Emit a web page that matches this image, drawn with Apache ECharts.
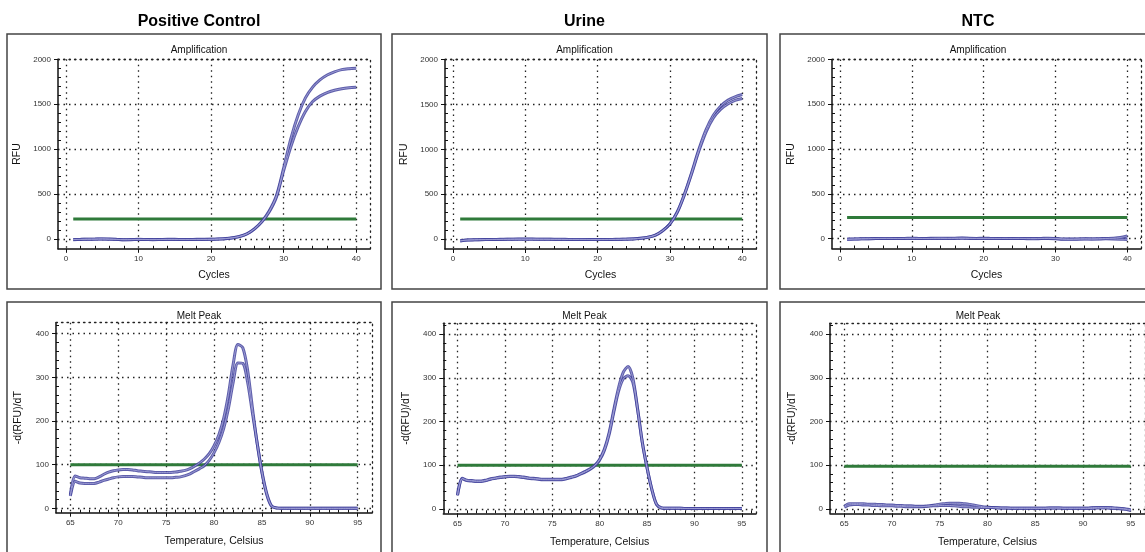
<!DOCTYPE html>
<html>
<head>
<meta charset="utf-8">
<script src="https://cdn.jsdelivr.net/npm/echarts@6/dist/echarts.min.js"></script>
<style>
  html, body { margin: 0; padding: 0; background: #fff; }
  #chart { width: 1145px; height: 552px; }
</style>
</head>
<body>
<div id="chart"></div>
<script>
// ---- data ----
const sampleNames = ["Positive Control", "Urine", "NTC"];

const cycles = [1, 2, 3, 4, 5, 6, 7, 8, 9, 10, 11, 12, 13, 14, 15, 16, 17, 18, 19, 20,
  21, 22, 23, 24, 25, 26, 27, 28, 29, 30, 31, 32, 33, 34, 35, 36, 37, 38, 39, 40];

const pcAmpA = [-6, -5, -3, -2, 0, -2, -5, -8, -7, -5, -6, -7, -6, -5, -5, -6, -6, -5, -5, -4,
  -1, 4, 13, 30, 60, 115, 195, 310, 480, 790, 1120, 1380, 1570, 1690, 1770, 1825, 1860, 1885, 1895, 1900];
const pcAmpB = [-8, -6, -4, -3, -1, -3, -6, -9, -8, -6, -7, -8, -7, -6, -6, -7, -7, -6, -6, -5,
  -2, 3, 12, 28, 58, 112, 190, 300, 465, 760, 1030, 1250, 1420, 1530, 1590, 1630, 1655, 1672, 1683, 1690];

const urAmpA = [-18, -10, -7, -5, -4, -3, -2, -1, 0, 0, 0, -1, -1, -2, -2, -3, -3, -3, -4, -4,
  -4, -3, -2, 0, 3, 10, 22, 45, 95, 170, 300, 500, 740, 1000, 1220, 1380, 1480, 1545, 1585, 1610];
const urAmpB = [-20, -11, -8, -6, -5, -4, -3, -2, -1, -1, -1, -2, -2, -3, -3, -4, -4, -4, -5, -5,
  -5, -4, -3, -1, 2, 9, 21, 44, 93, 168, 296, 492, 728, 980, 1195, 1350, 1445, 1505, 1545, 1565];

const ntcAmpA = [-8, -5, -2, 0, 2, 3, 3, 2, 3, 5, 3, 2, 4, 5, 4, 5, 6, 4, 3, 4,
  3, 2, 3, 2, 3, 2, 1, 3, 5, 2, -3, -5, -4, -2, -3, -1, 2, 5, 12, 30];
const ntcAmpB = [-6, -4, -2, -1, 1, 2, 2, 1, 2, 3, 2, 1, 2, 3, 2, 3, 4, 3, 2, 2,
  1, 1, 2, 1, 2, 0, -1, 1, 2, -1, -6, -8, -6, -4, -5, -4, -2, -3, -6, -10];

const temps = [65, 65.5, 66, 66.5, 67, 67.5, 68, 68.5, 69, 69.5, 70, 70.5, 71, 71.5, 72, 72.5,
  73, 73.5, 74, 74.5, 75, 75.5, 76, 76.5, 77, 77.5, 78, 78.5, 79, 79.5, 80, 80.5,
  81, 81.5, 82, 82.5, 83, 83.5, 84, 84.5, 85, 85.5, 86, 86.5, 87, 87.5, 88, 88.5,
  89, 89.5, 90, 90.5, 91, 91.5, 92, 92.5, 93, 93.5, 94, 94.5, 95];

const pcMeltA = [31, 74, 70, 69, 68, 68, 72, 78, 83, 86, 88, 89, 89, 88, 86, 85,
  84, 83, 82, 82, 82, 82, 83, 85, 87, 91, 97, 104, 113, 125, 143, 168,
  205, 260, 330, 375, 368, 318, 232, 150, 85, 35, 6, 1, 0, 0, 0, 0,
  0, 0, 0, 0, 0, 0, 0, 0, 0, 0, 0, 0, 0];
const pcMeltB = [28, 62, 58, 57, 57, 57, 60, 64, 67, 70, 72, 73, 73, 73, 72, 71,
  70, 70, 70, 70, 70, 70, 71, 72, 75, 79, 85, 91, 98, 110, 127, 150,
  182, 228, 288, 333, 332, 290, 220, 150, 82, 32, 5, 1, 0, 0, 0, 0,
  0, 0, 0, 0, 0, 0, 0, 0, 0, 0, 0, 0, 0];

const urMeltA = [32, 70, 66, 65, 64, 64, 66, 69, 71, 73, 74, 75, 75, 74, 73, 71,
  70, 69, 68, 68, 68, 68, 68, 70, 73, 76, 81, 86, 92, 100, 114, 137,
  175, 228, 278, 313, 326, 300, 230, 153, 95, 46, 11, 3, 2, 2, 2, 2,
  1, 1, 1, 1, 1, 1, 1, 1, 1, 1, 1, 1, 1];
const urMeltB = [31, 69, 65, 64, 63, 63, 65, 68, 70, 72, 73, 74, 74, 73, 72, 70,
  69, 68, 67, 67, 67, 67, 67, 69, 72, 75, 80, 85, 91, 99, 112, 134,
  170, 222, 270, 298, 305, 290, 228, 152, 94, 45, 10, 2, 1, 1, 1, 1,
  1, 1, 1, 1, 1, 1, 1, 1, 1, 1, 1, 1, 1];

const ntcMeltA = [6, 12, 12, 12, 12, 11, 11, 10, 10, 9, 9, 8, 8, 7, 7, 6,
  6, 6, 7, 7, 8, 8, 8, 7, 6, 5, 5, 4, 4, 3, 3, 3,
  2, 2, 2, 2, 2, 2, 2, 2, 2, 2, 2, 2, 2, 2, 2, 2,
  2, 2, 2, 2, 3, 3, 3, 3, 3, 2, 1, 0, -2];
const ntcMeltB = [4, 9, 10, 10, 9, 9, 8, 8, 7, 7, 7, 6, 6, 5, 5, 5,
  5, 6, 7, 9, 11, 12, 13, 13, 13, 12, 11, 9, 7, 5, 4, 3,
  3, 2, 2, 1, 1, 1, 1, 1, 1, 1, 1, 2, 2, 2, 1, 1,
  1, 1, 1, 1, 1, 2, 2, 2, 1, 1, 0, -1, -4];

const ampThreshold = [223, 223, 236];
const meltThreshold = [100, 100, 98];

const ampXTicks = [0, 10, 20, 30, 40];
const ampXMinor = [2, 4, 6, 8, 12, 14, 16, 18, 22, 24, 26, 28, 32, 34, 36, 38];
const ampYTicks = [0, 500, 1000, 1500, 2000];
const ampYMinor = [100, 200, 300, 400, 600, 700, 800, 900, 1100, 1200, 1300, 1400, 1600, 1700, 1800, 1900];
const meltXTicks = [65, 70, 75, 80, 85, 90, 95];
const meltXMinor = [64, 66, 67, 68, 69, 71, 72, 73, 74, 76, 77, 78, 79, 81, 82, 83, 84, 86, 87, 88, 89, 91, 92, 93, 94, 96];
const meltYTicks = [0, 100, 200, 300, 400];
const meltYMinor = [20, 40, 60, 80, 120, 140, 160, 180, 220, 240, 260, 280, 320, 340, 360, 380, 420];

const ampCurves = [[pcAmpA, pcAmpB], [urAmpA, urAmpB], [ntcAmpA, ntcAmpB]];
const meltCurves = [[pcMeltA, pcMeltB], [urMeltA, urMeltB], [ntcMeltA, ntcMeltB]];

// ---- layout ----
const FONT = "'Liberation Sans', Arial, sans-serif";
const boxX = [7, 392, 780];
const boxW = [374, 375, 386];
const ampGrids = [
  { left: 58, top: 59.3, width: 312, height: 189.5 },
  { left: 445, top: 59.5, width: 311, height: 189.5 },
  { left: 832, top: 59.5, width: 309, height: 189 }
];
const meltGrids = [
  { left: 56, top: 322.7, width: 316, height: 190 },
  { left: 443.3, top: 323.3, width: 312.7, height: 190 },
  { left: 830, top: 323.3, width: 316, height: 190 }
];

const lineDark = '#111';
const dotted = { type: [1.5, 4], color: '#222', width: 1.3 };
const plain = v => String(v);

let grids = [], xAxes = [], yAxes = [], series = [], titles = [], graphics = [];

function addPanel(g, xRange, yRange, xName, yName, xGap, yGap, xt, xm, yt, ym) {
  const gi = grids.length;
  grids.push(Object.assign({ containLabel: false }, g));
  const base = xAxes.length;
  // main x axis
  xAxes.push({
    gridIndex: gi, type: 'value', position: 'bottom', min: xRange[0], max: xRange[1],
    name: xName, nameLocation: 'middle', nameGap: xGap,
    nameTextStyle: { fontSize: 10.5, color: '#111', fontFamily: FONT },
    axisLine: { show: true, onZero: false, lineStyle: { color: lineDark, width: 1.5 } },
    axisTick: { show: true, customValues: xt, length: 4, lineStyle: { color: lineDark } },
    axisLabel: { customValues: xt, formatter: plain, fontSize: 8, color: '#333', margin: 6, fontFamily: FONT },
    splitLine: { show: true, lineStyle: dotted }
  });
  // minor ticks
  xAxes.push({
    gridIndex: gi, type: 'value', position: 'bottom', min: xRange[0], max: xRange[1],
    axisLine: { show: false, onZero: false },
    axisTick: { show: true, customValues: xm, inside: true, length: 3, lineStyle: { color: lineDark } },
    axisLabel: { show: false }, splitLine: { show: false }
  });
  // top frame
  xAxes.push({
    gridIndex: gi, type: 'value', position: 'top', min: xRange[0], max: xRange[1],
    axisLine: { show: true, onZero: false, lineStyle: dotted },
    axisTick: { show: false }, axisLabel: { show: false }, splitLine: { show: false }
  });
  yAxes.push({
    gridIndex: gi, type: 'value', position: 'left', min: yRange[0], max: yRange[1],
    name: yName, nameLocation: 'middle', nameGap: yGap,
    nameTextStyle: { fontSize: 10.5, color: '#111', fontFamily: FONT },
    axisLine: { show: true, onZero: false, lineStyle: { color: lineDark, width: 1.5 } },
    axisTick: { show: true, customValues: yt, length: 4, lineStyle: { color: lineDark } },
    axisLabel: { customValues: yt, formatter: plain, fontSize: 8, color: '#333', margin: 7, fontFamily: FONT },
    splitLine: { show: true, lineStyle: dotted }
  });
  yAxes.push({
    gridIndex: gi, type: 'value', position: 'left', min: yRange[0], max: yRange[1],
    axisLine: { show: false, onZero: false },
    axisTick: { show: true, customValues: ym, inside: true, length: 3, lineStyle: { color: lineDark } },
    axisLabel: { show: false }, splitLine: { show: false }
  });
  yAxes.push({
    gridIndex: gi, type: 'value', position: 'right', min: yRange[0], max: yRange[1],
    axisLine: { show: true, onZero: false, lineStyle: dotted },
    axisTick: { show: false }, axisLabel: { show: false }, splitLine: { show: false }
  });
  return base;
}

function addCurve(axisIdx, xs, ys) {
  const data = xs.map((x, i) => [x, ys[i]]);
  series.push({
    type: 'line', xAxisIndex: axisIdx, yAxisIndex: axisIdx, data: data,
    showSymbol: false, smooth: 0.3, silent: true, z: 3,
    lineStyle: { color: '#42429c', width: 3, opacity: 0.85 }
  });
  series.push({
    type: 'line', xAxisIndex: axisIdx, yAxisIndex: axisIdx, data: data,
    showSymbol: false, smooth: 0.3, silent: true, z: 4,
    lineStyle: { color: '#9a9ad2', width: 1 }
  });
}

function addThreshold(axisIdx, x0, x1, v) {
  series.push({
    type: 'line', xAxisIndex: axisIdx, yAxisIndex: axisIdx,
    data: [[x0, v], [x1, v]], showSymbol: false, silent: true, z: 2,
    lineStyle: { color: '#2f7a3a', width: 3 }
  });
}

for (let p = 0; p < 3; p++) {
  const cx = boxX[p] + boxW[p] / 2;
  // box frames
  graphics.push({
    type: 'rect', shape: { x: boxX[p], y: 34, width: boxW[p], height: 255 },
    style: { fill: 'none', stroke: '#444', lineWidth: 1.5 }, z: 0
  });
  graphics.push({
    type: 'rect', shape: { x: boxX[p], y: 302, width: boxW[p], height: 270 },
    style: { fill: 'none', stroke: '#444', lineWidth: 1.5 }, z: 0
  });
  titles.push({ text: sampleNames[p], left: cx, top: 9, textAlign: 'center',
    textStyle: { fontSize: 16, fontWeight: 'bold', color: '#000', fontFamily: FONT } });
  titles.push({ text: 'Amplification', left: cx, top: 40, textAlign: 'center',
    textStyle: { fontSize: 10, fontWeight: 'normal', color: '#111', fontFamily: FONT } });
  titles.push({ text: 'Melt Peak', left: cx, top: 306, textAlign: 'center',
    textStyle: { fontSize: 10, fontWeight: 'normal', color: '#111', fontFamily: FONT } });

  const a = addPanel(ampGrids[p], [-1.1, 41.9], [-110, 2000], 'Cycles', 'RFU', 21, 35,
    ampXTicks, ampXMinor, ampYTicks, ampYMinor);
  addThreshold(a, 1, 40, ampThreshold[p]);
  ampCurves[p].forEach(c => addCurve(a, cycles, c));

  const m = addPanel(meltGrids[p], [63.5, 96.5], [-10, 425], 'Temperature, Celsius', '-d(RFU)/dT', 23, 32,
    meltXTicks, meltXMinor, meltYTicks, meltYMinor);
  addThreshold(m, 65, 95, meltThreshold[p]);
  meltCurves[p].forEach(c => addCurve(m, temps, c));
}

const chart = echarts.init(document.getElementById('chart'));
chart.setOption({
  animation: false,
  backgroundColor: '#fff',
  textStyle: { fontFamily: FONT },
  title: titles,
  grid: grids,
  xAxis: xAxes,
  yAxis: yAxes,
  series: series,
  graphic: graphics
});
</script>
</body>
</html>
